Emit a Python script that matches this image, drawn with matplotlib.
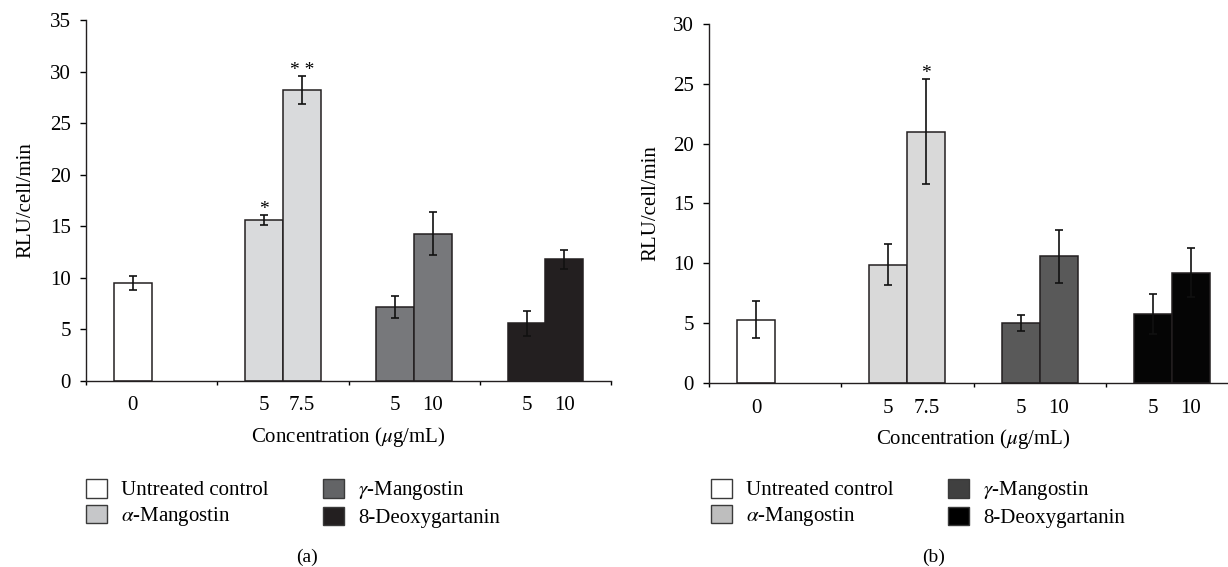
import matplotlib
matplotlib.use("Agg")
import matplotlib.pyplot as plt
from matplotlib.patches import Patch

plt.rcParams["font.family"] = ["Liberation Serif", "DejaVu Serif"]
plt.rcParams["mathtext.fontset"] = "stix"

# data
groups = ["Untreated control", r"$\alpha$-Mangostin", r"$\gamma$-Mangostin", "8-Deoxygartanin"]
doses = [["0"], ["5", "7.5"], ["5", "10"], ["5", "10"]]

means_a = [[9.5], [15.6, 28.2], [7.15, 14.3], [5.6, 11.8]]
err_a = [[0.65], [0.5, 1.35], [1.08, 2.08], [1.23, 0.9]]
stars_a = [[""], ["*", "* *"], ["", ""], ["", ""]]

means_b = [[5.3], [9.9, 21.0], [5.05, 10.6], [5.8, 9.22]]
err_b = [[1.55], [1.74, 4.4], [0.65, 2.2], [1.66, 2.05]]
stars_b = [[""], ["", "*"], ["", ""], ["", ""]]

colors_a = ["#ffffff", "#d9dadc", "#77787b", "#231f20"]
legend_colors_a = ["#ffffff", "#c6c7c9", "#636466", "#231f20"]
colors_b = ["#ffffff", "#d9d9d9", "#595959", "#050505"]
legend_colors_b = ["#ffffff", "#bebebe", "#404040", "#000000"]

W, H = 1228, 567
fig = plt.figure(figsize=(W / 100, H / 100), dpi=100)


def draw_panel(rect, means, errs, stars, colors, legend_colors, ymax, leg_xy, tag_x, tag, ylabelpad):
    ax = fig.add_axes(rect)
    width = 0.287
    centers, labels = [], []
    for g, (vals, es, st) in enumerate(zip(means, errs, stars)):
        for i, (v, e, s) in enumerate(zip(vals, es, st)):
            x = g - width / 2 + i * width
            ax.bar(x, v, width=width, color=colors[g], edgecolor="#231f20",
                   linewidth=1.1, zorder=2)
            ax.errorbar(x, v, yerr=e, fmt="none", ecolor="#111111",
                        elinewidth=1.2, capsize=3, capthick=1.2, zorder=3)
            if s:
                ax.annotate(s, (x, v + e), xytext=(0, -2), textcoords="offset points",
                            ha="center", va="bottom", fontsize=14)
            centers.append(x)
            labels.append(doses[g][i])

    ax.set_xlim(-0.5, 3.5)
    ax.set_ylim(0, ymax)
    ax.set_yticks(range(0, ymax + 1, 5))
    ax.set_xticks(centers)
    ax.set_xticklabels(labels)
    ax.set_xticks([-0.5, 0.5, 1.5, 2.5, 3.5], minor=True)
    ax.tick_params(axis="x", which="major", length=0, pad=11, labelsize=15)
    ax.tick_params(axis="x", which="minor", length=3, width=1, direction="out")
    ax.tick_params(axis="y", length=4, width=1, direction="out", pad=7, labelsize=15)
    for side in ["top", "right"]:
        ax.spines[side].set_visible(False)
    for side in ["left", "bottom"]:
        ax.spines[side].set_linewidth(1)
        ax.spines[side].set_color("#231f20")
    ax.set_xlabel(r"Concentration ($\mu$g/mL)", fontsize=15, labelpad=7)
    ax.set_ylabel("RLU/cell/min", fontsize=15, labelpad=ylabelpad)

    handles = [Patch(facecolor=c, edgecolor="#3a3a3a", linewidth=1.0) for c in legend_colors]
    fig.legend(handles, groups, loc="upper left", bbox_to_anchor=leg_xy, ncol=2,
               frameon=False, fontsize=15, borderpad=0, borderaxespad=0,
               handlelength=1.0, handleheight=1.0, handletextpad=0.7,
               columnspacing=2.6, labelspacing=0.2)
    fig.text(tag_x, 1 - 557 / H, tag, ha="center", va="center", fontsize=14)
    return ax


draw_panel([86 / W, 1 - 381 / H, 525 / W, 361 / H], means_a, err_a, stars_a,
           colors_a, legend_colors_a, 35, (86 / W, 1 - 479 / H), 307 / W, "(a)", 10)
draw_panel([709 / W, 1 - 383.3 / H, 529 / W, 359.6 / H], means_b, err_b, stars_b,
           colors_b, legend_colors_b, 30, (711 / W, 1 - 479 / H), 934 / W, "(b)", 9)

fig.savefig("out.png", dpi=100)
